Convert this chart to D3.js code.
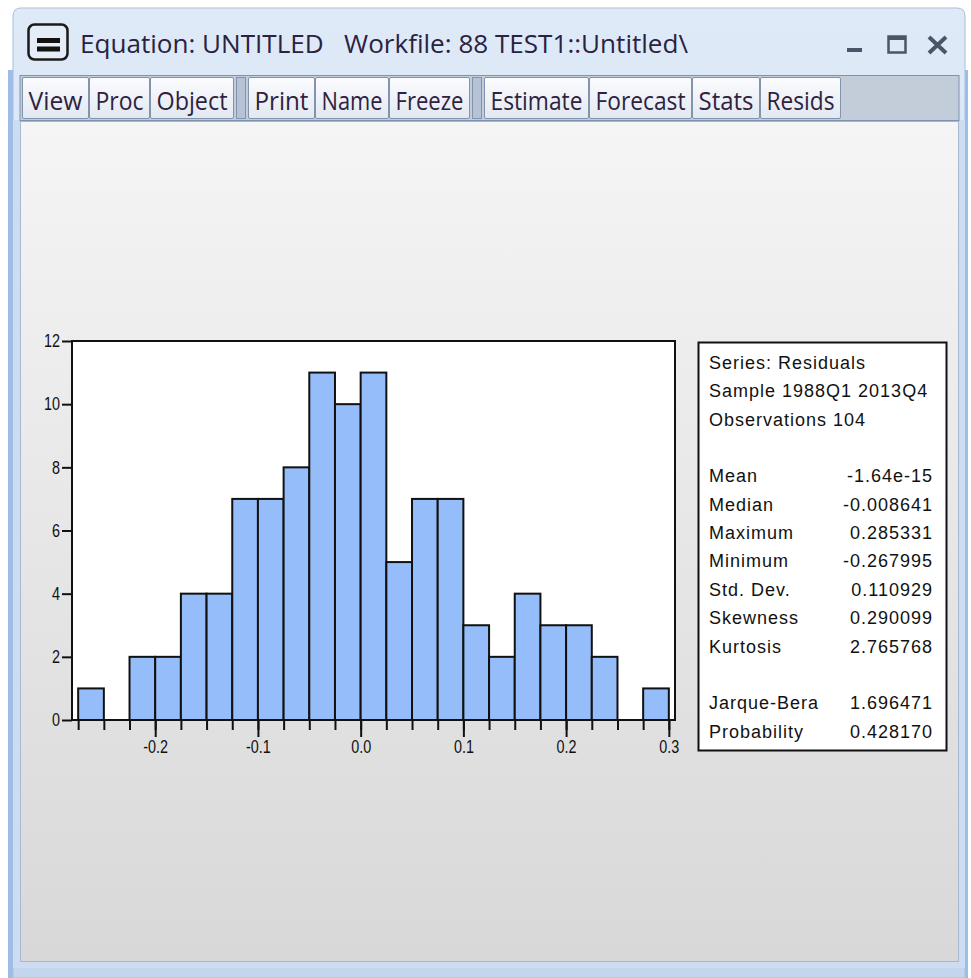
<!DOCTYPE html>
<html>
<head>
<meta charset="utf-8">
<script src="https://cdn.jsdelivr.net/npm/d3@7"></script>
<style>
  body { margin: 0; background: #fff; }
  svg { display: block; }
  .tick text { font-family: "Liberation Sans", Arial, sans-serif; }
</style>
</head>
<body>
<div id="chart"></div>
<script>
// histogram of residuals (bin lower edges, width 0.025)
const binLower = [-0.275, -0.25, -0.225, -0.2, -0.175, -0.15, -0.125, -0.1, -0.075, -0.05, -0.025,
                  0.0, 0.025, 0.05, 0.075, 0.1, 0.125, 0.15, 0.175, 0.2, 0.225, 0.25, 0.275];
const counts = [1, 0, 2, 2, 4, 4, 7, 7, 8, 11, 10, 11, 5, 7, 7, 3, 2, 4, 3, 3, 2, 0, 1];
const binWidth = 0.025;
const xMajor = [-0.2, -0.1, 0.0, 0.1, 0.2, 0.3];
const yTicks = [0, 2, 4, 6, 8, 10, 12];

const headerLines = ["Series: Residuals", "Sample 1988Q1 2013Q4", "Observations 104"];
const statNames = ["Mean", "Median", "Maximum", "Minimum", "Std. Dev.", "Skewness", "Kurtosis"];
const statValues = ["-1.64e-15", "-0.008641", "0.285331", "-0.267995", "0.110929", "0.290099", "2.765768"];
const testNames = ["Jarque-Bera", "Probability"];
const testValues = ["1.696471", "0.428170"];

const titleText = "Equation: UNTITLED   Workfile: 88 TEST1::Untitled\\";
const menuGroups = [["View", "Proc", "Object"], ["Print", "Name", "Freeze"], ["Estimate", "Forecast", "Stats", "Resids"]];

// layout bits (not data)
const btnW = {View: 67, Proc: 61, Object: 84, Print: 67, Name: 74, Freeze: 81,
              Estimate: 105, Forecast: 103, Stats: 68, Resids: 81};

let w = 971, h = 978;

let svg = d3.select("#chart")
            .append("svg")
            .attr("width", w)
            .attr("height", h);

let defs = svg.append("defs");

let grad = (id, stops) => {
  let g = defs.append("linearGradient").attr("id", id)
              .attr("x1", 0).attr("y1", 0).attr("x2", 0).attr("y2", 1);
  stops.forEach(s => g.append("stop").attr("offset", s[0]).attr("stop-color", s[1]));
};
grad("titleGrad", [[0, "#dfeaf8"], [1, "#c4d6ee"]]);
grad("clientGrad", [[0, "#f5f5f5"], [1, "#d8d8d8"]]);
grad("btnGrad", [[0, "#fbfcfe"], [1, "#e2e8f1"]]);

// ---- window chrome ----
svg.append("rect").attr("x", 8).attr("y", 70).attr("width", 960).attr("height", 910)
   .attr("fill", "#9dbde8");
svg.append("path")
   .attr("d", "M13,978 L13,16 Q13,8 21,8 L957,8 Q965,8 965,16 L965,978 Z")
   .attr("fill", "url(#titleGrad)")
   .attr("stroke", "#a9bfdc");
svg.append("rect").attr("x", 13).attr("y", 120).attr("width", 952).attr("height", 848)
   .attr("fill", "#cddcf1");

// icon
svg.append("rect").attr("x", 28.5).attr("y", 24.5).attr("width", 39).attr("height", 35).attr("rx", 6)
   .attr("fill", "#e4ecf7").attr("stroke", "#1a1a1a").attr("stroke-width", 2.5);
svg.append("rect").attr("x", 37).attr("y", 38).attr("width", 23).attr("height", 5).attr("fill", "#111");
svg.append("rect").attr("x", 37).attr("y", 46.5).attr("width", 23).attr("height", 5).attr("fill", "#111");

svg.append("text")
   .attr("x", 80).attr("y", 53)
   .attr("textLength", 608).attr("lengthAdjust", "spacingAndGlyphs")
   .style("white-space", "pre")
   .style("font-family", "'Open Sans', 'Noto Sans', sans-serif")
   .style("font-size", "25px")
   .style("fill", "#2a2240")
   .text(titleText);

// window buttons
let ctl = svg.append("g").attr("fill", "#4b5568").attr("stroke", "#4b5568");
ctl.append("rect").attr("x", 847).attr("y", 48).attr("width", 15).attr("height", 4).attr("stroke", "none");
ctl.append("rect").attr("x", 888.5).attr("y", 36.5).attr("width", 17).attr("height", 16)
   .attr("fill", "none").attr("stroke-width", 2.5);
ctl.append("rect").attr("x", 888).attr("y", 36).attr("width", 18).attr("height", 4).attr("stroke", "none");
ctl.append("path").attr("d", "M929,37 L946,53 M946,37 L929,53").attr("stroke-width", 4).attr("fill", "none");

// toolbar
svg.append("rect").attr("x", 20).attr("y", 75.5).attr("width", 939).attr("height", 45)
   .attr("fill", "#c3ccd9").attr("stroke", "#7f93b0");

let bx = 22;
menuGroups.forEach((grp, gi) => {
  if (gi > 0) {
    svg.append("rect").attr("x", bx + 2.5).attr("y", 77.5).attr("width", 9).attr("height", 41)
       .attr("fill", "#b6c3d6").attr("stroke", "#8293ad");
    bx += 14;
  }
  grp.forEach(lbl => {
    let bw = btnW[lbl];
    svg.append("rect").attr("x", bx + 0.5).attr("y", 77.5).attr("width", bw - 1).attr("height", 41)
       .attr("rx", 1.5)
       .attr("fill", "url(#btnGrad)").attr("stroke", "#8293ad");
    svg.append("text")
       .attr("x", bx + 6.5).attr("y", 109.5)
       .attr("textLength", bw - 13).attr("lengthAdjust", "spacingAndGlyphs")
       .style("font-family", "'Open Sans', 'Noto Sans', sans-serif")
       .style("font-size", "26px")
       .style("fill", "#2e2240")
       .text(lbl);
    bx += bw;
  });
});

// client area
svg.append("rect").attr("x", 20.5).attr("y", 121.5).attr("width", 938).attr("height", 840)
   .attr("fill", "url(#clientGrad)").attr("stroke", "#a7b8d2");

// ---- histogram ----
let x = d3.scaleLinear().domain([-0.281, 0.306]).range([72, 675]);
let y = d3.scaleLinear().domain([0, 12]).range([720, 341]);

svg.append("rect").attr("x", 72).attr("y", 341).attr("width", 603).attr("height", 379)
   .attr("fill", "#fff");

let edges = binLower.concat([binLower[binLower.length - 1] + binWidth]);

// x axis: minor ticks at every bin edge, longer labelled ticks at 0.1 steps
let xAxis = svg.append("g")
   .attr("transform", "translate(0,720)")
   .call(d3.axisBottom(x).tickValues(edges).tickSize(10).tickFormat(""));
xAxis.select(".domain").remove();
xAxis.selectAll("line").attr("stroke", "#111").attr("stroke-width", 2);

let xMaj = svg.append("g")
   .attr("transform", "translate(0,720)")
   .call(d3.axisBottom(x).tickValues(xMajor).tickSize(17).tickPadding(3)
           .tickFormat(d => d.toFixed(1)));
xMaj.select(".domain").remove();
xMaj.selectAll("line").attr("stroke", "#111").attr("stroke-width", 2);
xMaj.selectAll("text")
   .attr("transform", "scale(0.8,1)")
   .style("font-size", "18px")
   .attr("fill", "#111");

let yAxis = svg.append("g")
   .attr("transform", "translate(72,0)")
   .call(d3.axisLeft(y).tickValues(yTicks).tickSize(10).tickPadding(4));
yAxis.select(".domain").remove();
yAxis.selectAll("line").attr("stroke", "#111").attr("stroke-width", 2);
yAxis.selectAll("text")
   .attr("transform", "scale(0.8,1)")
   .attr("x", -12 / 0.8)
   .style("font-size", "18px")
   .attr("fill", "#111");

svg.selectAll(".bar")
   .data(binLower.map((b, i) => ({x0: b, x1: b + binWidth, n: counts[i]})).filter(d => d.n > 0))
   .enter()
   .append("rect")
   .attr("class", "bar")
   .attr("x", d => x(d.x0))
   .attr("y", d => y(d.n))
   .attr("width", d => x(d.x1) - x(d.x0))
   .attr("height", d => y(0) - y(d.n))
   .attr("fill", "#95bdf9")
   .attr("stroke", "#111")
   .attr("stroke-width", 2);

svg.append("rect").attr("x", 72).attr("y", 341).attr("width", 603).attr("height", 379)
   .attr("fill", "none").attr("stroke", "#111").attr("stroke-width", 2);

// ---- statistics box ----
svg.append("rect").attr("x", 698.5).attr("y", 342.5).attr("width", 248).attr("height", 408)
   .attr("fill", "#fff").attr("stroke", "#111").attr("stroke-width", 2);

let rows = headerLines.map(t => [t, ""])
  .concat([["", ""]])
  .concat(statNames.map((n, i) => [n, statValues[i]]))
  .concat([["", ""]])
  .concat(testNames.map((n, i) => [n, testValues[i]]));

let statG = svg.append("g")
   .style("font-family", "'Liberation Sans', Arial, sans-serif")
   .style("font-size", "18px")
   .style("letter-spacing", "1px")
   .attr("fill", "#111");

rows.forEach((r, i) => {
  let by = 369 + i * 28.35;
  statG.append("text").attr("x", 709).attr("y", by).text(r[0]);
  statG.append("text").attr("x", 933).attr("y", by).attr("text-anchor", "end").text(r[1]);
});
</script>
</body>
</html>
